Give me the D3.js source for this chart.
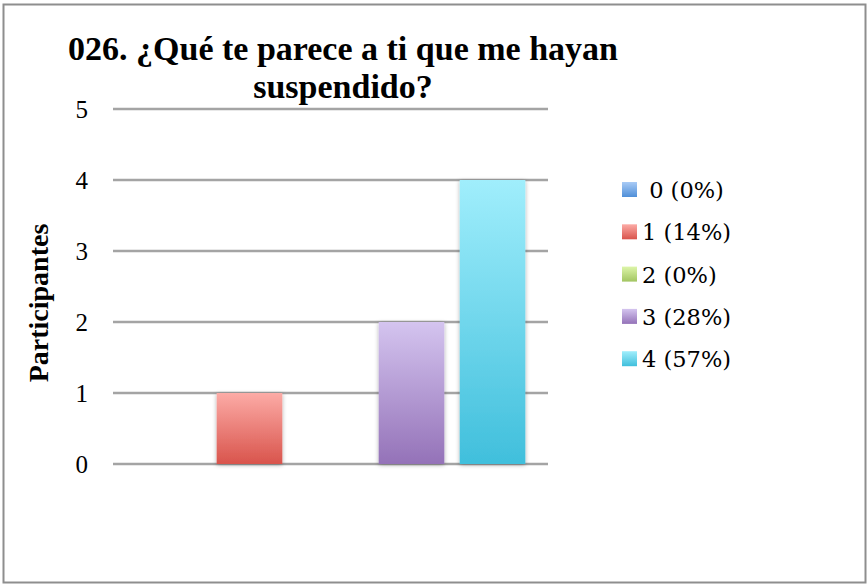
<!DOCTYPE html>
<html>
<head>
<meta charset="utf-8">
<script src="https://cdn.jsdelivr.net/npm/d3@7/dist/d3.min.js"></script>
<style>
  html, body { margin: 0; padding: 0; background: #fff; }
  svg { display: block; }
  text { white-space: pre; }
</style>
</head>
<body>
<svg id="chart" width="868" height="585"></svg>
<script>
// Answers to question 026 and how many participants chose each one
const categories = ["0", "1", "2", "3", "4"];
const values = [0, 1, 0, 2, 4];
const legendLabels = [" 0 (0%)", "1 (14%)", "2 (0%)", "3 (28%)", "4 (57%)"];
const yTicks = [0, 1, 2, 3, 4, 5];
const titleLines = ["026. ¿Qué te parece a ti que me hayan", "suspendido?"];
const yAxisTitle = "Participantes";

// Gradient colours per answer (light top, darker bottom)
const colorTop = ["#a9cbf6", "#fcaba6", "#ddf5a9", "#d4c4ef", "#a0eefc"];
const colorBottom = ["#4f8fd8", "#d9544c", "#a2c561", "#9472b8", "#40bfdc"];

const svg = d3.select("#chart");
const plot = { left: 113, right: 548, top: 109, bottom: 464 };

const defs = svg.append("defs");
categories.forEach((c, i) => {
  const g = defs.append("linearGradient")
    .attr("id", "grad" + i)
    .attr("x1", 0).attr("y1", 0).attr("x2", 0).attr("y2", 1);
  g.append("stop").attr("offset", "0%").attr("stop-color", colorTop[i]);
  g.append("stop").attr("offset", "100%").attr("stop-color", colorBottom[i]);
});
const shadow = defs.append("filter").attr("id", "barShadow")
  .attr("x", "-20%").attr("y", "-10%").attr("width", "140%").attr("height", "120%");
shadow.append("feDropShadow")
  .attr("dx", 0).attr("dy", 1).attr("stdDeviation", 2.2)
  .attr("flood-color", "#000").attr("flood-opacity", 0.32);

// Chart frame
svg.append("rect")
  .attr("x", 3.5).attr("y", 4.5).attr("width", 862).attr("height", 578)
  .attr("fill", "#fff").attr("stroke", "#8e8e8e").attr("stroke-width", 2);

const x = d3.scaleBand()
  .domain(categories)
  .range([plot.left, plot.right])
  .paddingInner(0.19)
  .paddingOuter(0.28);

const y = d3.scaleLinear()
  .domain([0, 5])
  .range([plot.bottom, plot.top]);

// Horizontal gridlines
svg.append("g").selectAll("line")
  .data(yTicks)
  .join("line")
  .attr("x1", plot.left).attr("x2", plot.right)
  .attr("y1", d => y(d)).attr("y2", d => y(d))
  .attr("stroke", "#a4a4a4").attr("stroke-width", 2.4);

// Y axis labels
const yAxis = svg.append("g")
  .attr("transform", `translate(${plot.left},0)`)
  .call(d3.axisLeft(y).tickValues(yTicks).tickFormat(d3.format("d")).tickSize(0).tickPadding(25));
yAxis.select(".domain").remove();
yAxis.selectAll("text")
  .attr("font-family", "'Liberation Serif', 'Times New Roman', serif")
  .attr("font-size", 25)
  .attr("fill", "#000");

// Bars
svg.append("g").selectAll("rect")
  .data(values.map((v, i) => ({ cat: categories[i], value: v, i })).filter(d => d.value > 0))
  .join("rect")
  .attr("x", d => x(d.cat))
  .attr("width", x.bandwidth())
  .attr("y", d => y(d.value))
  .attr("height", d => y(0) - y(d.value))
  .attr("fill", d => `url(#grad${d.i})`)
  .attr("filter", "url(#barShadow)");

// Title
const title = svg.append("text")
  .attr("text-anchor", "middle")
  .attr("font-family", "'Liberation Serif', 'Times New Roman', serif")
  .attr("font-weight", "bold")
  .attr("font-size", 34)
  .attr("fill", "#000");
titleLines.forEach((line, i) => {
  title.append("tspan")
    .attr("x", 343)
    .attr("y", 60 + i * 38)
    .text(line);
});

// Y axis title
svg.append("text")
  .attr("transform", "translate(48,303) rotate(-90)")
  .attr("text-anchor", "middle")
  .attr("font-family", "'Liberation Serif', 'Times New Roman', serif")
  .attr("font-weight", "bold")
  .attr("font-size", 28)
  .attr("fill", "#000")
  .text(yAxisTitle);

// Legend
const legend = svg.append("g").attr("transform", "translate(622,182)");
const items = legend.selectAll("g")
  .data(legendLabels)
  .join("g")
  .attr("transform", (d, i) => `translate(0,${i * 42.3})`);
items.append("rect")
  .attr("width", 15).attr("height", 15)
  .attr("fill", (d, i) => `url(#grad${i})`);
items.append("text")
  .attr("x", 20)
  .attr("y", 16)
  .attr("font-family", "'DejaVu Serif', serif")
  .attr("font-size", 22.5)
  .attr("fill", "#000")
  .text(d => d);
</script>
</body>
</html>
